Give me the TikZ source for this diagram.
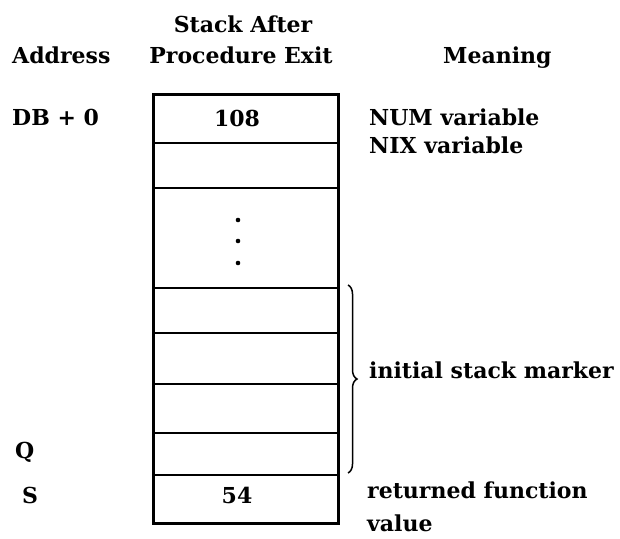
\documentclass[tikz,border=0pt]{standalone}
\usepackage{fontspec}
\setmainfont{DejaVu Serif}
\usetikzlibrary{decorations.pathreplacing}
\begin{document}
\begin{tikzpicture}[x=1pt,y=-1pt,
  txt/.style={font=\fontsize{22}{26}\selectfont\bfseries, inner sep=0pt},
  cell/.style={draw, line width=2.2pt, minimum width=184pt, inner sep=0pt},
  bracestyle/.style={decorate, decoration={brace, amplitude=9pt}, line width=1.5pt}]
\useasboundingbox (0,0) rectangle (620,538);
% headers
\node[txt, anchor=base] (h1) at (243,32) {Stack After};
\node[txt, anchor=base] (h2) at (241,63) {Procedure Exit};
\node[txt, anchor=base west] (h3) at (12,63) {Address};
\node[txt, anchor=base west] (h4) at (443,63) {Meaning};
% stack cells
\node[cell, minimum height=48pt] (c1) at (246,119) {};
\node[cell, minimum height=45pt] (c2) at (246,165.5) {};
\node[cell, minimum height=100pt] (c3) at (246,238) {};
\node[cell, minimum height=45pt] (c4) at (246,310.5) {};
\node[cell, minimum height=51pt] (c5) at (246,358.5) {};
\node[cell, minimum height=49pt] (c6) at (246,408.5) {};
\node[cell, minimum height=42pt] (c7) at (246,454) {};
\node[cell, minimum height=48pt] (c8) at (246,499) {};
\draw[line width=2.6pt] (c1.north west) rectangle (c8.south east);
\node[txt, anchor=base] (v1) at (237,126) {108};
\node[txt, anchor=base] (v8) at (237,503) {54};
% dots
\fill (238,220) circle (2.3pt);
\fill (238,241) circle (2.3pt);
\fill (238,263) circle (2.3pt);
% addresses
\node[txt, anchor=base west] (a1) at (12,125) {DB + 0};
\node[txt, anchor=base west] (a2) at (15,458) {Q};
\node[txt, anchor=base west] (a3) at (22,503) {S};
% meanings
\node[txt, anchor=base west] (m1) at (369,125) {NUM variable};
\node[txt, anchor=base west] (m2) at (369,153) {NIX variable};
\coordinate (b1) at (348,285);
\coordinate (b2) at (348,473);
\draw[bracestyle] (b1) -- (b2);
\node[txt, anchor=base west] (m3) at (369,378) {initial stack marker};
\node[txt, anchor=base west] (m4) at (367,498) {returned function};
\node[txt, anchor=base west] (m5) at (367,531) {value};
\end{tikzpicture}
\end{document}
